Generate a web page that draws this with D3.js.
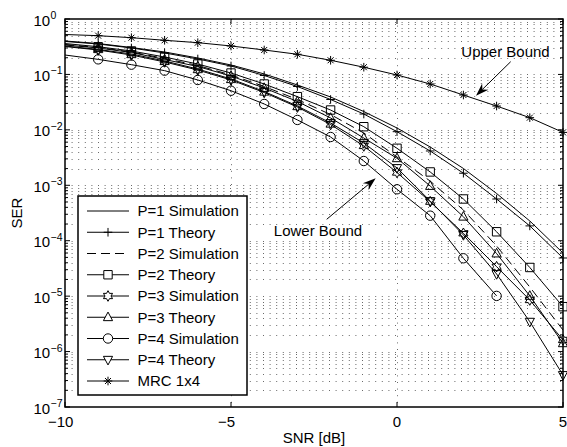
<!DOCTYPE html>
<html>
<head>
<meta charset="utf-8">
<script src="https://cdn.jsdelivr.net/npm/d3@7"></script>
<style>
body { margin: 0; background: #fff; }
text { font-family: "Liberation Sans", Arial, sans-serif; fill: #000; }
</style>
</head>
<body>
<div id="svgContainer"></div>
<script>
// SNR points (dB)
var snr = [-10, -9, -8, -7, -6, -5, -4, -3, -2, -1, 0, 1, 2, 3, 4, 5];

// SER values
var p1Sim = [0.401, 0.361, 0.306, 0.254, 0.198, 0.148, 0.102, 0.0645, 0.0392, 0.0214, 0.0108, 0.00491, 0.00201, 7.11e-4, 2.27e-4, 6.0e-5];
var p1Theory = [0.393, 0.354, 0.300, 0.244, 0.190, 0.142, 0.0957, 0.0606, 0.0353, 0.0193, 0.00927, 0.00416, 0.00165, 5.66e-4, 1.85e-4, 4.88e-5];
var p2Sim = [0.347, 0.306, 0.254, 0.194, 0.145, 0.0977, 0.0606, 0.0353, 0.0189, 0.00878, 0.00324, 0.00119, 3.58e-4, 8.03e-5, 1.46e-5, 2.45e-6];
var p2Theory = [0.361, 0.316, 0.265, 0.206, 0.154, 0.106, 0.0672, 0.0397, 0.0228, 0.0114, 0.00465, 0.00174, 5.66e-4, 1.45e-4, 3.29e-5, 6.46e-6];
var p3Sim = [0.319, 0.276, 0.224, 0.168, 0.120, 0.0794, 0.0472, 0.0258, 0.0125, 0.00512, 0.00170, 5.06e-4, 1.36e-4, 3.40e-5, 8.52e-6, 1.62e-6];
var p3Theory = [0.340, 0.300, 0.249, 0.186, 0.139, 0.0937, 0.0569, 0.0325, 0.0164, 0.00713, 0.00307, 9.71e-4, 2.71e-4, 5.87e-5, 1.01e-5, 1.41e-6];
var p4Sim = [0.224, 0.187, 0.150, 0.117, 0.0794, 0.0508, 0.0293, 0.0151, 0.00743, 0.00274, 8.47e-4, 2.83e-4, 4.82e-5, 1.01e-5, null, null];
var p4Theory = [0.326, 0.282, 0.234, 0.175, 0.125, 0.0828, 0.0492, 0.0269, 0.0133, 0.00579, 0.00205, 5.21e-4, 1.27e-4, 2.51e-5, 3.46e-6, 3.78e-7];
var mrc = [0.525, 0.500, 0.460, 0.413, 0.374, 0.326, 0.276, 0.231, 0.180, 0.135, 0.0977, 0.0672, 0.0425, 0.0269, 0.0166, 0.0090];

var legendNames = ["P=1 Simulation", "P=1 Theory", "P=2 Simulation", "P=2 Theory", "P=3 Simulation",
    "P=3 Theory", "P=4 Simulation", "P=4 Theory", "MRC 1x4"];
var xTicks = [-10, -5, 0, 5];
var yExps = [0, -1, -2, -3, -4, -5, -6, -7];

var width = 567, height = 447;
var plot = {left: 65, right: 563, top: 19, bottom: 407};

var series = [
    {name: legendNames[0], values: p1Sim, marker: null, dash: null},
    {name: legendNames[1], values: p1Theory, marker: "plus", dash: null},
    {name: legendNames[2], values: p2Sim, marker: null, dash: "9,5"},
    {name: legendNames[3], values: p2Theory, marker: "square", dash: null},
    {name: legendNames[4], values: p3Sim, marker: "hexagram", dash: null},
    {name: legendNames[5], values: p3Theory, marker: "triUp", dash: null},
    {name: legendNames[6], values: p4Sim, marker: "circle", dash: null},
    {name: legendNames[7], values: p4Theory, marker: "triDown", dash: null},
    {name: legendNames[8], values: mrc, marker: "asterisk", dash: null}
];

var svg = d3.select("#svgContainer")
    .append("svg")
    .attr("width", width)
    .attr("height", height);

var x = d3.scaleLinear().domain([-10, 5]).range([plot.left, plot.right]);
var y = d3.scaleLog().domain([1e-7, 1]).range([plot.bottom, plot.top]);

// marker shapes, MATLAB style
function markerPath(type) {
    if (type == "plus") return "M-4.3,0H4.3M0,-4.3V4.3";
    if (type == "asterisk") return "M-4.3,0H4.3M0,-4.3V4.3M-3,-3L3,3M-3,3L3,-3";
    if (type == "square") return "M-4.2,-4.2H4.2V4.2H-4.2Z";
    if (type == "triUp") return "M0,-5.2L4.6,3.4L-4.6,3.4Z";
    if (type == "triDown") return "M0,5.2L4.6,-3.4L-4.6,-3.4Z";
    if (type == "circle") {
        var p = d3.path();
        p.arc(0, 0, 4.7, 0, 2 * Math.PI);
        return p.toString();
    }
    if (type == "hexagram") {
        var pts = [];
        for (var i = 0; i < 12; i++) {
            var r = i % 2 == 0 ? 5.3 : 3.0;
            var a = -Math.PI / 2 + i * Math.PI / 6;
            pts.push([r * Math.cos(a), r * Math.sin(a)]);
        }
        return "M" + pts.map(function(d) { return d[0].toFixed(2) + "," + d[1].toFixed(2); }).join("L") + "Z";
    }
    return "";
}

// grid (dotted)
var minorVals = [];
for (var e = -7; e < 0; e++) {
    for (var m = 1; m < 10; m++) minorVals.push(m * Math.pow(10, e));
}
minorVals.push(1);

var grid = svg.append("g").attr("stroke", "#444").attr("stroke-width", 0.8)
    .attr("stroke-dasharray", "1,5.6");
grid.selectAll(".hgrid").data(minorVals.filter(function(v) { return v < 1 && v > 1e-7; }))
    .enter().append("line")
    .attr("x1", plot.left).attr("x2", plot.right)
    .attr("y1", function(d) { return Math.round(y(d)) + 0.5; })
    .attr("y2", function(d) { return Math.round(y(d)) + 0.5; });
grid.selectAll(".vgrid").data([-5, 0])
    .enter().append("line")
    .attr("x1", function(d) { return Math.round(x(d)) + 0.5; })
    .attr("x2", function(d) { return Math.round(x(d)) + 0.5; })
    .attr("y1", plot.top).attr("y2", plot.bottom);

// curves
svg.append("clipPath").attr("id", "clip")
    .append("rect")
    .attr("x", plot.left).attr("y", plot.top)
    .attr("width", plot.right - plot.left).attr("height", plot.bottom - plot.top);

var line = d3.line()
    .defined(function(d) { return d[1] != null; })
    .x(function(d) { return x(d[0]); })
    .y(function(d) { return y(d[1]); });

series.forEach(function(s) {
    var pts = snr.map(function(v, i) { return [v, s.values[i]]; });
    svg.append("path")
        .attr("clip-path", "url(#clip)")
        .attr("d", line(pts))
        .attr("fill", "none")
        .attr("stroke", "#000")
        .attr("stroke-width", 1)
        .attr("stroke-dasharray", s.dash);
    if (s.marker) {
        // no marker drawn at the first point (-10 dB) in the original
        svg.append("g").selectAll("path")
            .data(pts.filter(function(d) { return d[0] > -10 && d[1] != null && d[1] >= 1e-7; }))
            .enter().append("path")
            .attr("transform", function(d) { return "translate(" + x(d[0]) + "," + y(d[1]) + ")"; })
            .attr("d", markerPath(s.marker))
            .attr("fill", "none")
            .attr("stroke", "#000")
            .attr("stroke-width", 1);
    }
});

// axes box and ticks
var axisG = svg.append("g").attr("stroke", "#000").attr("fill", "none");
axisG.append("rect")
    .attr("x", plot.left).attr("y", plot.top)
    .attr("width", plot.right - plot.left).attr("height", plot.bottom - plot.top)
    .attr("stroke-width", 1.5);
minorVals.forEach(function(v) {
    var major = Math.abs(Math.log10(v) - Math.round(Math.log10(v))) < 1e-9;
    var len = major ? 5 : 3;
    var yy = y(v);
    axisG.append("line").attr("x1", plot.left).attr("x2", plot.left + len).attr("y1", yy).attr("y2", yy);
    axisG.append("line").attr("x1", plot.right).attr("x2", plot.right - len).attr("y1", yy).attr("y2", yy);
});
xTicks.forEach(function(t) {
    axisG.append("line").attr("x1", x(t)).attr("x2", x(t)).attr("y1", plot.bottom).attr("y2", plot.bottom - 5);
    axisG.append("line").attr("x1", x(t)).attr("x2", x(t)).attr("y1", plot.top).attr("y2", plot.top + 5);
});

// tick labels
var fs = 15;
yExps.forEach(function(e) {
    var yy = y(Math.pow(10, e));
    svg.append("text").attr("x", 33.5).attr("y", yy + 6.5).attr("font-size", fs).text("10");
    svg.append("text").attr("x", 50.5).attr("y", yy).attr("font-size", 10.5)
        .text(e == 0 ? "0" : "\u2212" + Math.abs(e));
});
xTicks.forEach(function(t) {
    var digits = String(Math.abs(t));
    svg.append("text")
        .attr("x", x(t) + digits.length * 0.556 * fs / 2)
        .attr("y", 426.5)
        .attr("font-size", fs)
        .attr("text-anchor", "end")
        .text((t < 0 ? "\u2212" : "") + digits);
});

svg.append("text").attr("x", (plot.left + plot.right) / 2).attr("y", 443)
    .attr("font-size", fs).attr("text-anchor", "middle").text("SNR [dB]");
svg.append("text").attr("transform", "translate(21.5," + (plot.top + plot.bottom) / 2 + ") rotate(-90)")
    .attr("font-size", fs).attr("text-anchor", "middle").text("SER");

// annotations with arrows
function arrow(x1, y1, x2, y2) {
    var ang = Math.atan2(y2 - y1, x2 - x1);
    var L = 13, W = 4.5, N = 9;
    var ux = Math.cos(ang), uy = Math.sin(ang);
    var bx = x2 - ux * L, by = y2 - uy * L;
    var nx = x2 - ux * N, ny = y2 - uy * N;
    svg.append("line").attr("x1", x1).attr("y1", y1).attr("x2", nx).attr("y2", ny)
        .attr("stroke", "#000").attr("stroke-width", 1);
    svg.append("path")
        .attr("d", "M" + x2 + "," + y2 + "L" + (bx - uy * W) + "," + (by + ux * W) +
            "L" + nx + "," + ny + "L" + (bx + uy * W) + "," + (by - ux * W) + "Z")
        .attr("fill", "#000");
}
svg.append("text").attr("x", 505.5).attr("y", 57).attr("font-size", fs)
    .attr("text-anchor", "middle").text("Upper Bound");
arrow(510.7, 61.7, 476, 95.7);
svg.append("text").attr("x", 318).attr("y", 236).attr("font-size", fs)
    .attr("text-anchor", "middle").text("Lower Bound");
arrow(326.7, 219.3, 375.7, 178.3);

// legend
var lg = {x: 78, y: 196, w: 169, h: 199, step: 21.25, first: 211};
svg.append("rect").attr("x", lg.x).attr("y", lg.y).attr("width", lg.w).attr("height", lg.h)
    .attr("fill", "#fff").attr("stroke", "#000").attr("stroke-width", 1.5);
series.forEach(function(s, i) {
    var yy = lg.first + i * lg.step;
    svg.append("line").attr("x1", 87).attr("x2", 129).attr("y1", yy).attr("y2", yy)
        .attr("stroke", "#000").attr("stroke-width", 1).attr("stroke-dasharray", s.dash);
    if (s.marker) {
        svg.append("path").attr("transform", "translate(108," + yy + ")")
            .attr("d", markerPath(s.marker)).attr("fill", "#fff").attr("stroke", "#000");
    }
    svg.append("text").attr("x", 137.5).attr("y", yy + 5.3).attr("font-size", fs).text(s.name);
});
</script>
</body>
</html>
